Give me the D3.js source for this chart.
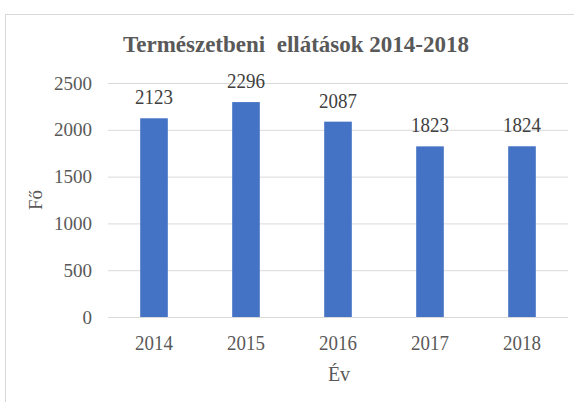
<!DOCTYPE html>
<html>
<head>
<meta charset="utf-8">
<script src="https://cdn.jsdelivr.net/npm/d3@7"></script>
<style>
  body { margin: 0; background: #fff; }
  text { font-family: "Liberation Serif", "Times New Roman", serif; }
</style>
</head>
<body>
<svg id="chart" width="574" height="402"></svg>
<script>
// chart data
const years = ['2014', '2015', '2016', '2017', '2018']
const counts = [2123, 2296, 2087, 1823, 1824]
const yTicks = [0, 500, 1000, 1500, 2000, 2500]

const svg = d3.select('#chart')
const margin = { top: 83, right: 6, bottom: 85, left: 108 }
const width = 574 - margin.left - margin.right
const height = 402 - margin.top - margin.bottom

// squeeze text horizontally, the source render is a bit condensed
function squeeze (sel, k) {
  sel.each(function () {
    const w = this.getComputedTextLength()
    d3.select(this).attr('textLength', w * k).attr('lengthAdjust', 'spacingAndGlyphs')
  })
}

// chart area border (runs off the right and bottom edges)
svg.append('rect')
  .attr('x', 5.5).attr('y', 14.5)
  .attr('width', 600).attr('height', 420)
  .attr('fill', 'none').attr('stroke', '#d9d9d9')

const g = svg.append('g').attr('transform', `translate(${margin.left},${margin.top})`)

const x = d3.scaleBand().domain(years).range([0, width]).paddingInner(0.7).paddingOuter(0.35)
const y = d3.scaleLinear().domain([0, 2500]).range([height, 0])

// gridlines + y labels
const yAxis = g.append('g')
  .call(d3.axisLeft(y).tickValues(yTicks).tickFormat(d3.format('d')).tickSize(-width).tickPadding(16))
yAxis.select('.domain').remove()
yAxis.selectAll('.tick line').attr('stroke', '#d9d9d9')
yAxis.selectAll('.tick text').attr('fill', '#595959').style('font-size', '19px')

// x labels
const xAxis = g.append('g').attr('transform', `translate(0,${height})`)
  .call(d3.axisBottom(x).tickSize(0).tickPadding(17))
xAxis.select('.domain').remove()
xAxis.selectAll('.tick text').attr('fill', '#595959').style('font-size', '22px')
squeeze(xAxis.selectAll('.tick text'), 0.86)

// bars
g.selectAll('.bar')
  .data(counts)
  .join('rect')
  .attr('class', 'bar')
  .attr('x', (d, i) => x(years[i]))
  .attr('y', d => y(d))
  .attr('width', x.bandwidth())
  .attr('height', d => height - y(d))
  .attr('fill', '#4472c4')

// value labels
const labels = g.selectAll('.label')
  .data(counts)
  .join('text')
  .attr('class', 'label')
  .attr('x', (d, i) => x(years[i]) + x.bandwidth() / 2)
  .attr('y', d => y(d) - 14)
  .attr('text-anchor', 'middle')
  .attr('fill', '#404040')
  .style('font-size', '21px')
  .text(d => d)
squeeze(labels, 0.9)

// title
svg.append('text')
  .attr('x', 296).attr('y', 52)
  .attr('text-anchor', 'middle')
  .attr('fill', '#595959')
  .attr('xml:space', 'preserve')
  .style('white-space', 'pre')
  .style('font-size', '23px')
  .style('font-weight', 'bold')
  .text('Természetbeni  ellátások 2014-2018')

// axis titles
svg.append('text')
  .attr('transform', 'translate(42,200) rotate(-90)')
  .attr('text-anchor', 'middle')
  .attr('fill', '#595959')
  .style('font-size', '19px')
  .text('Fő')

svg.append('text')
  .attr('x', 339).attr('y', 381)
  .attr('text-anchor', 'middle')
  .attr('fill', '#595959')
  .style('font-size', '20px')
  .text('Év')
</script>
</body>
</html>
